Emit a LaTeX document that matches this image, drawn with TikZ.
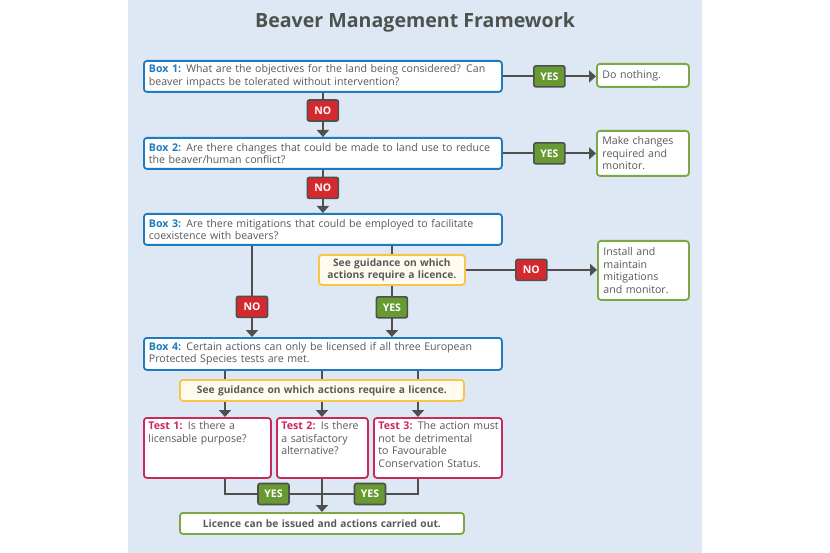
\documentclass[tikz,border=0pt]{standalone}
\usepackage{fontspec}
\setmainfont{Open Sans}
\usetikzlibrary{arrows.meta}
\definecolor{bgblue}{HTML}{DDE8F4}
\definecolor{boxblue}{HTML}{1E7BBD}
\definecolor{outgreen}{HTML}{7AA844}
\definecolor{yesgreen}{HTML}{689A33}
\definecolor{nored}{HTML}{D42A2F}
\definecolor{guideyellow}{HTML}{F7C548}
\definecolor{guidefill}{HTML}{FFFCEF}
\definecolor{testpink}{HTML}{C9295E}
\definecolor{linegray}{HTML}{4F504D}
\definecolor{txtgray}{HTML}{58595B}
\definecolor{titlegray}{HTML}{4D524E}
\newcommand\bodyfont{\fontsize{10.6bp}{12.5bp}\selectfont}
\newcommand\guidefont{\fontsize{10.2bp}{12.5bp}\selectfont\bfseries}
\newcommand\labfont{\fontsize{10.5bp}{12bp}\selectfont\bfseries}
\tikzset{
  base box/.style={line width=1.8bp, rounded corners=3bp, fill=white, inner xsep=5bp, inner ysep=3bp,
    anchor=north west, font=\bodyfont, text=txtgray},
  qbox/.style={base box, draw=boxblue, align=left},
  outbox/.style={base box, draw=outgreen, align=left},
  guidebox/.style={base box, draw=guideyellow, fill=guidefill, align=center, font=\guidefont},
  testbox/.style={base box, draw=testpink, align=left, inner xsep=4.5bp, text height=9bp, text depth=45bp},
  finbox/.style={base box, draw=outgreen, align=center, font=\guidefont},
  lab/.style={draw=linegray, line width=1.6bp, rounded corners=2bp, text=white, font=\labfont,
    minimum width=31bp, minimum height=21bp, inner sep=0pt},
  yes/.style={lab, fill=yesgreen},
  no/.style={lab, fill=nored},
  line/.style={draw=linegray, line width=2bp},
  conn/.style={line, -{Triangle[length=7bp,width=12bp]}},
}
\newcommand\bx[1]{\textcolor{boxblue}{\bfseries #1}}
\newcommand\tx[1]{\textcolor{testpink}{\bfseries #1}}
\begin{document}
\begin{tikzpicture}[x=1bp, y=-1bp]
\fill[white] (0,0) rectangle (830,553);
\useasboundingbox (0,0) rectangle (830,553);
\fill[bgblue] (128,0) rectangle (702,553);

\node[anchor=base, font=\fontsize{19.6bp}{22bp}\selectfont\bfseries, text=titlegray] (title) at (415,27.5) {Beaver Management Framework};

% boxes
\node[qbox, minimum width=358bp, minimum height=31bp, text width=348bp] (b1) at (143,60)
  {\mbox{\bx{Box 1:} What are the objectives for the land being considered? Can}\\\mbox{beaver impacts be tolerated without intervention?}};
\node[outbox, minimum width=92bp, minimum height=23bp, text width=81bp] (dn) at (596,63) {Do nothing.};

\node[qbox, minimum width=358bp, minimum height=31bp, text width=348bp] (b2) at (143,137)
  {\mbox{\bx{Box 2:} Are there changes that could be made to land use to reduce}\\\mbox{the beaver/human conflict?}};
\node[outbox, minimum width=92bp, minimum height=45bp, text width=81bp] (mc) at (596,130) {\mbox{Make changes}\\\mbox{required and}\\monitor.};

\node[qbox, minimum width=358bp, minimum height=31bp, text width=348bp] (b3) at (143,213)
  {\mbox{\bx{Box 3:} Are there mitigations that could be employed to facilitate}\\\mbox{coexistence with beavers?}};
\node[guidebox, minimum width=146bp, minimum height=30bp, text width=136bp] (g1) at (318,254)
  {See guidance on which\\\mbox{actions require a licence.}};
\node[outbox, minimum width=91bp, minimum height=59bp, text width=80bp] (im) at (597,240)
  {Install and\\maintain\\mitigations\\\mbox{and monitor.}};

\node[qbox, minimum width=358bp, minimum height=32bp, text width=348bp] (b4) at (143,337)
  {\mbox{\bx{Box 4:} Certain actions can only be licensed if all three European}\\\mbox{Protected Species tests are met.}};
\node[guidebox, minimum width=284bp, minimum height=21bp, text width=274bp, inner ysep=1bp] (g2) at (179,379)
  {See guidance on which actions require a licence.};

\node[testbox, minimum width=127bp, text width=118bp] (t1) at (143,417) {\mbox{\tx{Test 1:} Is there a}\\\mbox{licensable purpose?}};
\node[testbox, minimum width=91bp, text width=82bp] (t2) at (276,417) {\mbox{\tx{Test 2:} Is there}\\\mbox{a satisfactory}\\alternative?};
\node[testbox, minimum width=128bp, text width=119bp] (t3) at (373,417) {\mbox{\tx{Test 3:} The action must}\\\mbox{not be detrimental}\\\mbox{to Favourable}\\\mbox{Conservation Status.}};

\node[finbox, minimum width=284bp, minimum height=21bp, text width=274bp, inner ysep=1bp] (fin) at (179,512)
  {Licence can be issued and actions carried out.};

% helper coordinates
\coordinate (xl) at (252,0);
\coordinate (c1) at (225,0);
\coordinate (c2) at (322,0);
\coordinate (c3) at (418,0);
\coordinate (j) at (322,494);

% connectors
\draw[conn] (b1.east) -- node[yes]{YES} (b1.east -| dn.west);
\draw[conn] (b1.south) -- node[no, pos=0.4]{NO} (b2.north);
\draw[conn] (b2.east) -- node[yes]{YES} (b2.east -| mc.west);
\draw[conn] (b2.south) -- node[no, pos=0.42]{NO} (b3.north);
\draw[line] (b3.south -| g1.north) -- (g1.north);
\draw[conn] (g1.east) -- node[no]{NO} (g1.east -| im.west);
\draw[conn] (b3.south -| xl) -- node[no, pos=0.67]{NO} (b4.north -| xl);
\draw[conn] (g1.south) -- node[yes, pos=0.42]{YES} (b4.north -| g1.south);

\draw[line] (b4.south -| c1) -- (g2.north -| c1);
\draw[line] (b4.south -| c2) -- (g2.north -| c2);
\draw[line] (b4.south -| c3) -- (g2.north -| c3);
\draw[conn] (g2.south -| c1) -- (t1.north -| c1);
\draw[conn] (g2.south -| c2) -- (t2.north -| c2);
\draw[conn] (g2.south -| c3) -- (t3.north -| c3);

\draw[line] (t1.south -| c1) |- node[yes, pos=0.75]{YES} (j);
\draw[line] (t3.south -| c3) |- node[yes, pos=0.75]{YES} (j);
\draw[conn] (t2.south -| c2) -- (fin.north -| c2);
\end{tikzpicture}
\end{document}
